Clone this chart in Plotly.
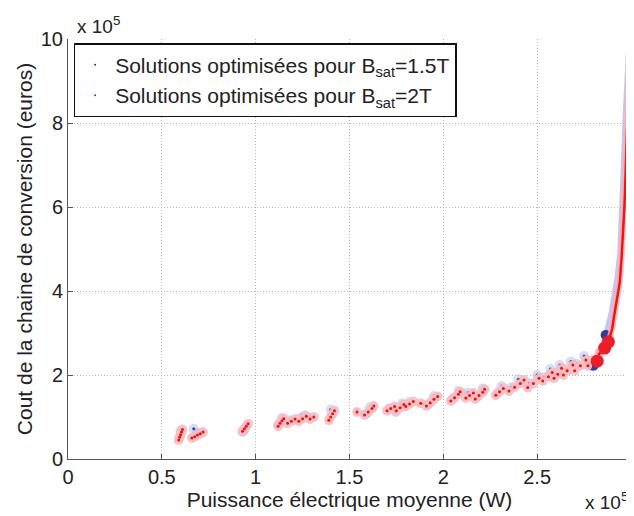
import plotly.graph_objects as go

# Units: x in 1e5 W, y in 1e5 euros
# Series Bsat = 2T (red) : clusters of optimised solutions
red_x = [0.59, 0.595, 0.60, 0.605, 0.61,
         0.66, 0.675, 0.69, 0.705, 0.72,
         0.93, 0.94, 0.95, 0.96,
         1.12, 1.13, 1.14, 1.15,
         1.17, 1.19, 1.21,
         1.23, 1.25, 1.27,
         1.29, 1.31,
         1.39, 1.40, 1.41, 1.42,
         1.54,
         1.58, 1.60, 1.62, 1.63,
         1.70, 1.72, 1.74,
         1.75, 1.77, 1.79,
         1.80, 1.82, 1.84,
         1.88,
         1.91, 1.93, 1.95, 1.97,
         2.04, 2.06, 2.08, 2.09,
         2.12, 2.14, 2.16,
         2.17, 2.19, 2.21, 2.22,
         2.28, 2.30, 2.32,
         2.35, 2.38, 2.41, 2.43,
         2.45, 2.48, 2.51,
         2.53, 2.56, 2.58,
         2.59, 2.61, 2.63,
         2.64, 2.66, 2.69,
         2.70, 2.73, 2.76,
         2.77, 2.80, 2.83]
red_y = [0.45, 0.52, 0.58, 0.64, 0.70,
         0.50, 0.53, 0.57, 0.60, 0.64,
         0.66, 0.72, 0.78, 0.84,
         0.78, 0.85, 0.91, 0.96,
         0.85, 0.90, 0.95,
         0.90, 0.96, 1.02,
         0.95, 1.00,
         0.92, 1.00, 1.08, 1.15,
         1.12,
         1.05, 1.12, 1.20, 1.26,
         1.15, 1.20, 1.25,
         1.15, 1.22, 1.30,
         1.25, 1.31, 1.37,
         1.33,
         1.26, 1.34, 1.42, 1.49,
         1.38, 1.46, 1.54, 1.60,
         1.45, 1.51, 1.57,
         1.43, 1.51, 1.59, 1.66,
         1.52, 1.60, 1.68,
         1.62, 1.71, 1.80, 1.88,
         1.70, 1.80, 1.92,
         1.86, 1.96, 2.06,
         1.92, 2.02, 2.16,
         2.00, 2.10, 2.24,
         2.10, 2.22, 2.36,
         2.22, 2.36, 2.50]
red_curve_x = [2.83, 2.86, 2.88, 2.90, 2.91, 2.925, 2.94, 2.95, 2.96, 2.965, 2.97, 2.975, 2.98, 2.985, 2.99, 2.995]
red_curve_y = [2.50, 2.64, 2.79, 3.10, 3.40, 3.80, 4.20, 4.80, 5.50, 6.00, 6.60, 7.30, 8.00, 8.60, 9.30, 10.0]
red_sel_x = [2.82, 2.86, 2.88]
red_sel_y = [2.33, 2.64, 2.79]

# Series Bsat = 1.5T (blue)
blue_x = [0.60, 0.67, 0.69, 0.94, 0.93, 1.12, 1.14, 1.18, 1.24, 1.26,
          1.40, 1.59, 1.61, 1.71, 1.745, 1.78, 1.82, 1.92, 1.95,
          2.05, 2.08, 2.13, 2.18, 2.21, 2.29, 2.31, 2.36, 2.40,
          2.46, 2.50, 2.54, 2.57, 2.60, 2.62, 2.65, 2.68, 2.71, 2.75, 2.79]
blue_y = [0.68, 0.72, 0.62, 0.70, 0.64, 0.82, 0.98, 0.92, 0.98, 1.04,
          1.18, 1.08, 1.24, 1.20, 1.12, 1.32, 1.36, 1.30, 1.50,
          1.44, 1.62, 1.58, 1.48, 1.68, 1.58, 1.74, 1.70, 1.90,
          1.80, 2.00, 1.95, 2.14, 2.05, 2.24, 2.14, 2.32, 2.26, 2.45, 2.21]
blue_curve_x = [2.82, 2.85, 2.865, 2.88, 2.895, 2.91, 2.925, 2.94, 2.948, 2.953, 2.958, 2.963, 2.968, 2.975, 2.982, 2.99]
blue_curve_y = [2.55, 2.75, 2.95, 3.20, 3.50, 3.90, 4.30, 4.90, 5.60, 6.10, 6.70, 7.40, 8.10, 8.70, 9.40, 10.0]
blue_sel_x = [2.80, 2.865]
blue_sel_y = [2.22, 2.95]

x_ticks = [0, 0.5, 1, 1.5, 2, 2.5, 3]
x_tick_labels = ["0", "0.5", "1", "1.5", "2", "2.5", "3"]
y_ticks = [0, 2, 4, 6, 8, 10]
y_tick_labels = ["0", "2", "4", "6", "8", "10"]

FONT = "Liberation Sans, Arial, Helvetica, sans-serif"
TXT = "#222222"

fig = go.Figure()

# blue halos (underneath)
fig.add_trace(go.Scatter(x=blue_curve_x, y=blue_curve_y, mode="lines",
                         line=dict(color="rgba(160,160,225,0.6)", width=5),
                         showlegend=False, hoverinfo="skip"))
fig.add_trace(go.Scatter(x=red_x + blue_x, y=red_y + blue_y, mode="markers",
                         marker=dict(size=10, color="rgba(175,175,230,0.45)", line=dict(width=0)),
                         showlegend=False, hoverinfo="skip"))
fig.add_trace(go.Scatter(x=blue_x, y=blue_y, mode="markers",
                         marker=dict(size=3, color="#3040b0", line=dict(width=0)),
                         showlegend=False, hoverinfo="skip"))
fig.add_trace(go.Scatter(x=blue_sel_x, y=blue_sel_y, mode="markers",
                         marker=dict(size=10, color="#2a3fa0", line=dict(width=0)),
                         showlegend=False, hoverinfo="skip"))

# red halos
fig.add_trace(go.Scatter(x=red_curve_x, y=red_curve_y, mode="lines",
                         line=dict(color="rgba(255,175,175,0.85)", width=6),
                         showlegend=False, hoverinfo="skip"))
fig.add_trace(go.Scatter(x=red_x, y=red_y, mode="markers",
                         marker=dict(size=9, color="rgba(255,190,190,0.9)", line=dict(width=0)),
                         showlegend=False, hoverinfo="skip"))
fig.add_trace(go.Scatter(x=red_x, y=red_y, mode="markers",
                         marker=dict(size=3, color="#f01010", line=dict(width=0)),
                         showlegend=False, hoverinfo="skip"))
fig.add_trace(go.Scatter(x=red_curve_x, y=red_curve_y, mode="lines",
                         line=dict(color="#f01515", width=2.5),
                         showlegend=False, hoverinfo="skip"))
fig.add_trace(go.Scatter(x=red_sel_x, y=red_sel_y, mode="markers",
                         marker=dict(size=13, color="#ee1c25", line=dict(width=0)),
                         showlegend=False, hoverinfo="skip"))

# legend entries
fig.add_trace(go.Scatter(x=[None], y=[None], mode="markers",
                         marker=dict(size=2, color="#2030d0"),
                         name="Solutions optimisées pour B<sub>sat</sub>=1.5T"))
fig.add_trace(go.Scatter(x=[None], y=[None], mode="markers",
                         marker=dict(size=2, color="#e01010"),
                         name="Solutions optimisées pour B<sub>sat</sub>=2T"))

axis_common = dict(showgrid=True, gridcolor="#b8b8b8", griddash="1px,2px", gridwidth=1,
                   zeroline=False, showline=True, linecolor="#555555", linewidth=1,
                   ticks="inside", ticklen=5, tickcolor="#555555", automargin=False,
                   ticklabeloverflow="allow",
                   tickfont=dict(family=FONT, size=20, color=TXT), mirror=False)

# page body has an 8px default margin: figure sized so the plot area lands where the reference has it
fig.update_layout(
    width=626, height=508,
    paper_bgcolor="white", plot_bgcolor="white",
    margin=dict(l=60, r=3, t=31, b=57),
    font=dict(family=FONT, color=TXT),
    xaxis=dict(range=[0, 3.0001], tickvals=x_ticks, ticktext=x_tick_labels,
               title=dict(text="Puissance électrique moyenne (W)", standoff=0,
                          font=dict(family=FONT, size=21, color=TXT)),
               **axis_common),
    yaxis=dict(range=[0, 10], tickvals=y_ticks, ticktext=y_tick_labels,
               title=dict(text="Cout de la chaine de conversion (euros)", standoff=2,
                          font=dict(family=FONT, size=21, color=TXT)),
               **axis_common),
    legend=dict(x=0.01, y=0.99, xanchor="left", yanchor="top",
                bgcolor="white", bordercolor="#111111", borderwidth=1.5,
                font=dict(family=FONT, size=21, color=TXT),
                itemsizing="trace", itemwidth=30, tracegroupgap=0),
    showlegend=True,
)

fig.add_annotation(text="x 10<sup>5</sup>", xref="paper", yref="paper", x=0.012, y=1.0,
                   xanchor="left", yanchor="bottom", showarrow=False,
                   font=dict(family=FONT, size=19, color=TXT))
fig.add_annotation(text="x 10<sup>5</sup>", xref="paper", yref="paper", x=0.998, y=-0.1,
                   xanchor="right", yanchor="middle", showarrow=False,
                   font=dict(family=FONT, size=19, color=TXT))

fig.write_html("out.html")
